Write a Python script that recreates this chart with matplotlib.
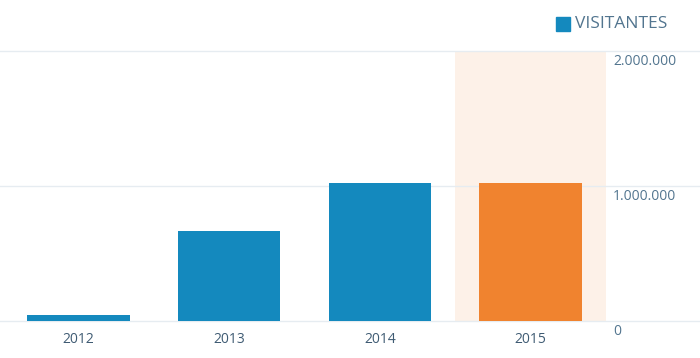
import matplotlib
matplotlib.use("Agg")
import matplotlib.pyplot as plt
import matplotlib.transforms as mtrans
from matplotlib.patches import Rectangle

years = ["2012", "2013", "2014", "2015"]
visitors = [45000, 665000, 1025000, 1025000]
ytick_values = [0, 1000000, 2000000]
ytick_labels = ["0", "1.000.000", "2.000.000"]
series_name = "VISITANTES"

BLUE = "#1489be"
ORANGE = "#f0832f"
HILITE = "#fdf1e8"
GRID = "#e6ecf1"
LABEL = "#52758f"
XLABEL = "#3f5b73"

plt.rcParams['font.family'] = ['Open Sans', 'DejaVu Sans']

W, H = 700, 358
fig = plt.figure(figsize=(W / 100, H / 100), dpi=100)
ax_left, ax_right = 3, 606
ax_w = ax_right - ax_left
ax_bot, ax_top = 321, 51
ax = fig.add_axes([ax_left / W, (H - ax_bot) / H, ax_w / W, (ax_bot - ax_top) / H])

x = list(range(len(years)))
colors = [BLUE] * (len(years) - 1) + [ORANGE]
ax.axvspan(x[-1] - 0.5, x[-1] + 0.5, color=HILITE, zorder=0, lw=0)
for v in ytick_values:
    ax.axhline(v, xmin=-ax_left / ax_w, xmax=(W - ax_left) / ax_w, color=GRID,
               lw=1, clip_on=False, zorder=1)
ax.bar(x, visitors, width=0.68, color=colors, zorder=2)

ax.set_xlim(-0.5, len(years) - 0.5)
ax.set_ylim(0, 2000000)
ax.set_xticks(x)
ax.set_xticklabels(years, fontsize=10, color=XLABEL)
ax.set_yticks(ytick_values)
ax.set_yticklabels(ytick_labels, fontsize=10, color=LABEL)
ax.yaxis.tick_right()
ax.tick_params(axis='y', length=0, pad=5)
ax.tick_params(axis='x', length=0, pad=8)
offset = mtrans.ScaledTranslation(0, -3 / 100, fig.dpi_scale_trans)
for lab in ax.get_yticklabels():
    lab.set_verticalalignment('top')
    lab.set_transform(lab.get_transform() + offset)
for s in ax.spines.values():
    s.set_visible(False)
ax.patch.set_alpha(0)

# legend
fig.patches.append(Rectangle((556 / W, 1 - 30.5 / H), 14 / W, 13.5 / H,
                             transform=fig.transFigure, color=BLUE))
fig.text(575 / W, 1 - 24 / H, series_name, fontsize=12.5, color=LABEL,
         va='center', ha='left')

fig.savefig("out.png", dpi=100)
